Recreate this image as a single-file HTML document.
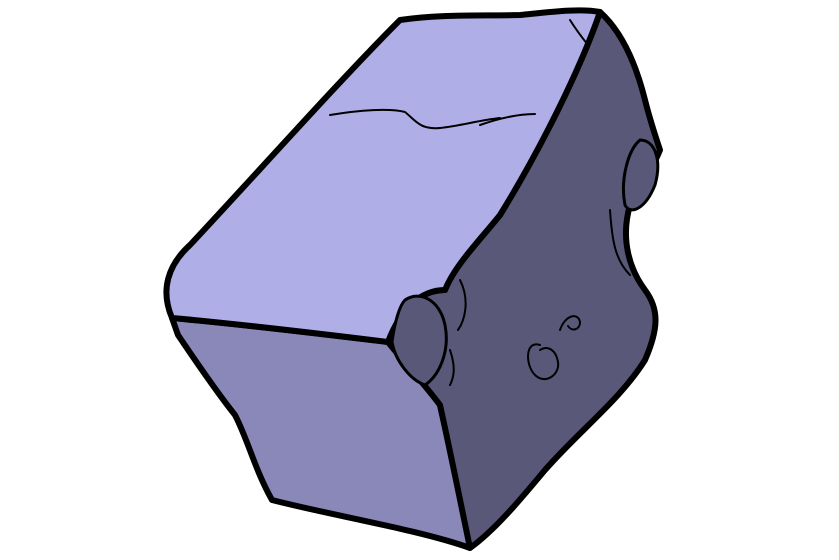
<!DOCTYPE html>
<html><head><meta charset="utf-8"><style>html,body{margin:0;padding:0;background:#fff}svg{display:block}</style></head>
<body>
<svg width="839" height="560" viewBox="0 0 839 560">
<g stroke="#000" stroke-linejoin="round" stroke-linecap="round">
<path fill="#8a88b8" stroke-width="6" d="M172,318 C250,325 330,335 388,342 C410,370 430,390 440,405 C450,450 462,500 470,548 C420,530 330,515 272,500 C255,470 248,440 235,415 C215,390 195,360 178,335 Z"/>
<path fill="#5a5878" stroke-width="6" d="M600,12 C620,30 635,60 645,100 C650,120 655,135 660,150 C650,175 635,190 630,205 C620,240 630,270 645,290 C660,310 658,330 645,360 C620,400 580,430 545,470 C520,500 495,530 470,548 C460,500 450,450 440,405 C425,385 410,370 392,342 C400,310 420,290 445,290 C455,265 480,240 500,215 C540,150 580,70 600,12 Z"/>
<path fill="#b0aee6" stroke-width="6" d="M400,20 C440,14 480,16 520,15 C550,12 580,8 600,12 C580,70 540,150 500,215 C480,240 455,265 445,290 C420,290 400,310 388,342 C330,335 250,325 172,318 C160,290 168,265 190,245 C260,170 340,80 400,20 Z"/>
<path fill="#5a5878" stroke-width="3" d="M405,300 C420,290 440,300 445,325 C450,350 440,375 425,385 C410,380 395,360 392,342 C395,320 400,305 405,300 Z"/>
<path fill="#5a5878" stroke-width="3" d="M640,140 C655,140 662,160 655,185 C645,210 630,215 625,205 C620,180 628,150 640,140 Z"/>
<path fill="none" stroke-width="2" d="M330,115 C360,110 390,108 405,112 C415,120 420,130 440,128 C460,126 480,120 500,118 M480,125 C500,118 520,114 535,114"/>
<path fill="none" stroke-width="2" d="M570,20 C575,28 580,35 588,45"/>
<path fill="none" stroke-width="2" d="M540,345 C525,340 525,365 535,375 C545,385 560,375 558,362 C556,350 548,345 540,350 M560,330 C565,315 578,312 580,322 C580,330 572,332 568,326"/>
<path fill="none" stroke-width="2" d="M460,280 C470,300 465,320 458,330 M450,350 C455,365 455,375 450,385 M610,210 C612,240 615,260 630,275"/>
</g>
</svg>
</body></html>
